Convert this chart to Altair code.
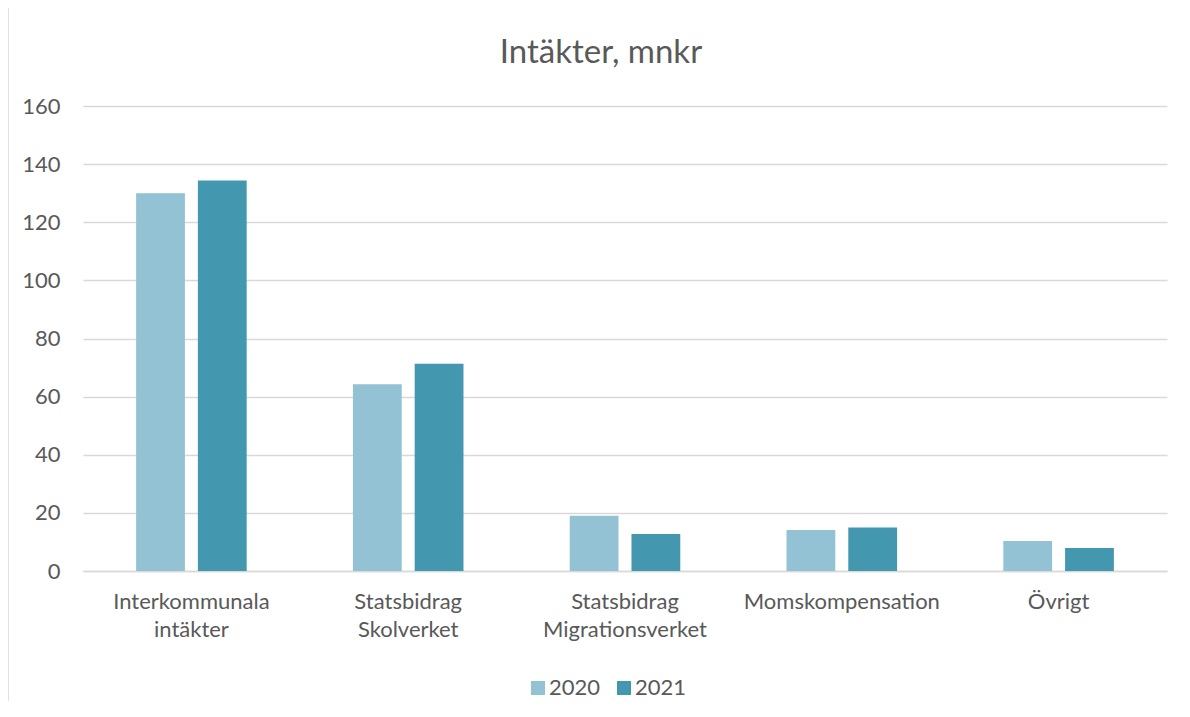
import altair as alt
import pandas as pd

categories = ["Interkommunala intäkter", "Statsbidrag Skolverket", "Statsbidrag Migrationsverket", "Momskompensation", "Övrigt"]
years = ["2020", "2021"]
values_2020 = [130.0, 64.3, 19.0, 14.1, 10.3]
values_2021 = [134.4, 71.3, 12.7, 15.0, 7.9]
y_ticks = [0, 20, 40, 60, 80, 100, 120, 140, 160]
title_text = "Intäkter, mnkr"
colors = ["#92C2D4", "#4398B0"]

rows = []
for c, a, b in zip(categories, values_2020, values_2021):
    rows.append({"cat": c, "year": "2020", "value": a})
    rows.append({"cat": c, "year": "2021", "value": b})
df = pd.DataFrame(rows)

FONT = "Lato"
TXT = "#595959"
GRID = "#D9D9D9"
W, H = 1084, 465

bars = alt.Chart(df).mark_bar().encode(
    x=alt.X("cat:N", sort=categories, title=None,
            scale=alt.Scale(paddingInner=0.49, paddingOuter=0.245),
            axis=alt.Axis(labelAngle=0, labelFont=FONT, labelFontSize=22, labelColor=TXT,
                          labelPadding=20, labelLineHeight=28, labelBaseline="top", labelLimit=400,
                          labelExpr="split(datum.label, ' ')",
                          domain=True, domainColor=GRID, domainWidth=1.3, ticks=False, grid=False)),
    xOffset=alt.XOffset("year:N", sort=years, scale=alt.Scale(paddingInner=0.21, paddingOuter=0)),
    y=alt.Y("value:Q", title=None, scale=alt.Scale(domain=[0, 160], nice=False),
            axis=alt.Axis(values=y_ticks, labelFont=FONT, labelFontSize=22, labelColor=TXT,
                          labelPadding=23, domain=False, ticks=False,
                          gridColor=GRID, gridWidth=1.3)),
    color=alt.Color("year:N", sort=years, scale=alt.Scale(domain=years, range=colors),
                    legend=alt.Legend(title=None, orient="none", legendX=444, legendY=571,
                                      direction="horizontal", symbolType="square", symbolSize=196,
                                      symbolStrokeWidth=0, labelFont=FONT, labelFontSize=22,
                                      labelColor=TXT, labelOffset=0, columnPadding=12, padding=0)),
)

one = pd.DataFrame({"t": [title_text]})
title = alt.Chart(one).mark_text(font=FONT, fontSize=33, color=TXT, align="center",
                                 baseline="alphabetic").encode(
    text="t:N", x=alt.value(518), y=alt.value(-43))

border_top = alt.Chart(one).mark_rule(color=GRID, strokeWidth=1.5).encode(
    x=alt.value(-75), x2=alt.value(W + 20), y=alt.value(-99), y2=alt.value(-99))
border_left = alt.Chart(one).mark_rule(color=GRID, strokeWidth=1.5).encode(
    x=alt.value(-75), x2=alt.value(-75), y=alt.value(-99), y2=alt.value(H + 160))

chart = alt.layer(bars, title, border_top, border_left).properties(
    width=W, height=H,
    autosize=alt.AutoSizeParams(type="none"),
    padding={"left": 75, "top": 98, "right": 15, "bottom": 130},
).configure_view(stroke=None)

chart.save("out.html", embed_options={"renderer": "svg", "actions": False})
